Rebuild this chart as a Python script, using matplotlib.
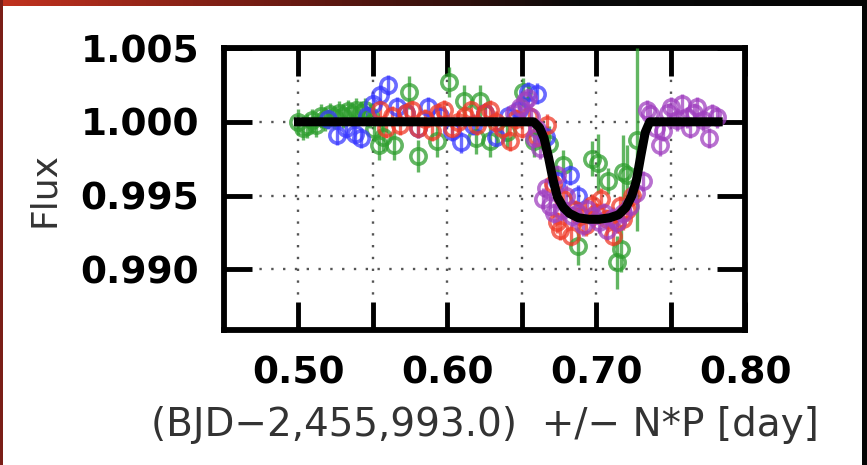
import matplotlib
matplotlib.use("Agg")
import matplotlib.pyplot as plt
import numpy as np
from matplotlib.colors import LinearSegmentedColormap
from matplotlib.ticker import FixedLocator, FuncFormatter

# ---- light-curve data (phase-folded time, relative flux, flux error) ----
t_green = [0.500, 0.503, 0.506, 0.509, 0.512, 0.515, 0.518, 0.521, 0.524, 0.527,
           0.530, 0.533, 0.536, 0.539, 0.542, 0.545, 0.548, 0.551, 0.554, 0.557,
           0.564, 0.574, 0.580, 0.593, 0.601, 0.611, 0.619, 0.622, 0.629, 0.640,
           0.651, 0.658, 0.668, 0.678, 0.688, 0.697, 0.701, 0.708, 0.714, 0.717,
           0.718, 0.721, 0.7275]
f_green = [1.0000, 0.9996, 0.9997, 1.0001, 0.9998, 1.0004, 1.0002, 1.0005, 1.0003, 1.0006,
           1.0004, 1.0007, 1.0005, 1.0008, 1.0006, 1.0008, 1.0004, 0.9995, 0.9984, 0.9990,
           0.9984, 1.0020, 0.9977, 0.9987, 1.0027, 1.0014, 0.9989, 1.0014, 0.9987, 0.9993,
           1.0020, 0.9987, 0.9985, 0.9971, 0.9916, 0.9975, 0.9972, 0.9960, 0.9905, 0.9914,
           0.9966, 0.9964, 0.9988]
e_green = [0.0009, 0.0008, 0.0008, 0.0008, 0.0008, 0.0008, 0.0008, 0.0008, 0.0008, 0.0008,
           0.0008, 0.0008, 0.0008, 0.0008, 0.0008, 0.0008, 0.0008, 0.0008, 0.0010, 0.0010,
           0.0010, 0.0011, 0.0011, 0.0011, 0.0010, 0.0011, 0.0011, 0.0011, 0.0011, 0.0011,
           0.0010, 0.0011, 0.0012, 0.0010, 0.0013, 0.0012, 0.0020, 0.0009, 0.0018, 0.0016,
           0.0025, 0.0020, 0.0062]

t_blue = [0.520, 0.526, 0.532, 0.538, 0.542, 0.546, 0.550, 0.555, 0.560, 0.566,
          0.572, 0.580, 0.587, 0.595, 0.603, 0.609, 0.617, 0.625, 0.633, 0.641,
          0.648, 0.654, 0.660, 0.666, 0.674, 0.6826, 0.688]
f_blue = [1.0002, 0.9991, 0.9996, 0.9992, 0.9989, 1.0004, 1.0012, 1.0018, 1.0025, 1.0010,
          1.0006, 0.9996, 1.0010, 1.0004, 0.9994, 0.9986, 0.9998, 1.0006, 0.9990, 1.0004,
          1.0008, 1.0020, 1.0019, 0.9990, 0.9960, 0.9964, 0.9950]
e_blue = [0.0007] * len(t_blue)

t_red = [0.555, 0.559, 0.563, 0.568, 0.572, 0.576, 0.580, 0.585, 0.590, 0.594,
         0.598, 0.603, 0.607, 0.612, 0.616, 0.620, 0.625, 0.629, 0.633, 0.637,
         0.642, 0.646, 0.650, 0.655, 0.660, 0.667, 0.671, 0.674, 0.676, 0.678,
         0.683, 0.686, 0.689, 0.693, 0.697, 0.700, 0.703, 0.707, 0.711, 0.714,
         0.716, 0.718, 0.721, 0.724]
f_red = [1.0008, 0.9996, 1.0004, 0.9998, 1.0006, 1.0008, 0.9996, 1.0002, 0.9994, 1.0006,
         1.0008, 0.9996, 1.0000, 1.0004, 1.0008, 0.9998, 1.0006, 1.0008, 1.0000, 0.9996,
         0.9987, 1.0002, 0.9996, 1.0004, 0.9990, 0.9998, 0.9958, 0.9932, 0.9927, 0.9948,
         0.9923, 0.9940, 0.9936, 0.9930, 0.9944, 0.9938, 0.9948, 0.9934, 0.9923, 0.9932,
         0.9943, 0.9934, 0.9940, 0.9950]
e_red = [0.0007] * len(t_red)

t_purple = [0.645, 0.649, 0.652, 0.654, 0.656, 0.658, 0.660, 0.662, 0.664, 0.666,
            0.669, 0.672, 0.674, 0.677, 0.680, 0.684, 0.688, 0.691, 0.694, 0.698,
            0.702, 0.705, 0.707, 0.711, 0.714, 0.718, 0.723, 0.727, 0.7315, 0.734,
            0.736, 0.740, 0.743, 0.745, 0.748, 0.750, 0.754, 0.758, 0.761, 0.763,
            0.766, 0.768, 0.772, 0.776, 0.778, 0.781]
f_purple = [1.0006, 1.0010, 1.0014, 1.0016, 1.0003, 0.9989, 0.9995, 0.9982, 0.9948, 0.9955,
            0.9943, 0.9938, 0.9964, 0.9940, 0.9950, 0.9936, 0.9938, 0.9930, 0.9941, 0.9936,
            0.9932, 0.9938, 0.9927, 0.9935, 0.9932, 0.9938, 0.9943, 0.9952, 0.9960, 1.0008,
            1.0005, 0.9996, 0.9984, 0.9994, 1.0006, 1.0010, 1.0001, 1.0012, 1.0003, 0.9996,
            1.0006, 1.0010, 1.0001, 0.9989, 1.0005, 1.0003]
e_purple = [0.0007] * len(t_purple)

# best-fit transit model
t_model = [0.497, 0.658, 0.662, 0.665, 0.668, 0.671, 0.674, 0.678, 0.682, 0.688,
           0.695, 0.702, 0.709, 0.715, 0.720, 0.724, 0.727, 0.730, 0.733, 0.736, 0.785]
f_model = [1.0000, 1.0000, 0.9996, 0.9989, 0.9976, 0.9961, 0.9949, 0.9942, 0.9938, 0.9935,
           0.9934, 0.9934, 0.9935, 0.9937, 0.9942, 0.9950, 0.9960, 0.9977, 0.9993, 1.0000, 1.0000]

x_ticks = [0.50, 0.55, 0.60, 0.65, 0.70, 0.75, 0.80]
x_labels = ["0.50", "", "0.60", "", "0.70", "", "0.80"]
y_ticks = [0.990, 0.995, 1.000, 1.005]

W, H = 867, 465
fig = plt.figure(figsize=(W / 100, H / 100), dpi=100)
fig.patch.set_facecolor("white")

# slide frame: red-to-black strip on top, thin borders left and right
strip = fig.add_axes([0, 1 - 6 / H, 1, 6 / H])
cmap = LinearSegmentedColormap.from_list("frame", ["#c2321f", "#6a1a12", "#0a0a0a", "#050505"])
strip.imshow(np.linspace(0, 1, 256)[None, :], aspect="auto", cmap=cmap)
strip.axis("off")
left_edge = fig.add_axes([0, 0, 2.5 / W, 1])
left_edge.set_facecolor("#7a1e17")
left_edge.set_xticks([]); left_edge.set_yticks([])
for s in left_edge.spines.values():
    s.set_visible(False)
right_edge = fig.add_axes([1 - 5.5 / W, 0, 5.5 / W, 1])
right_edge.set_facecolor("#050505")
right_edge.set_xticks([]); right_edge.set_yticks([])
for s in right_edge.spines.values():
    s.set_visible(False)

ax = fig.add_axes([224 / W, 1 - 330 / H, (745 - 224) / W, (330 - 48) / H])

series = [
    (t_green, f_green, e_green, "#2e9e2e"),
    (t_blue, f_blue, e_blue, "#3a3aff"),
    (t_red, f_red, e_red, "#f03a28"),
    (t_purple, f_purple, e_purple, "#a040c0"),
]
for t, f, e, c in series:
    ax.errorbar(t, f, yerr=e, fmt="o", ms=11, mfc="none", mec=c, mew=2.6,
                ecolor=c, elinewidth=2.4, capsize=0, alpha=0.75, zorder=3)

ax.plot(t_model, f_model, color="black", lw=6.5, solid_capstyle="butt",
        solid_joinstyle="round", zorder=5)

ax.set_xlim(0.45, 0.80)
ax.set_ylim(0.9859, 1.005)
ax.xaxis.set_major_locator(FixedLocator(x_ticks))
ax.set_xticklabels(x_labels)
ax.yaxis.set_major_locator(FixedLocator(y_ticks))
ax.yaxis.set_major_formatter(FuncFormatter(lambda v, p: f"{v:.3f}"))

ax.grid(True, color="#555555", linestyle=(0, (1, 4)), linewidth=1.7, zorder=1)
ax.set_axisbelow(True)
for s in ax.spines.values():
    s.set_linewidth(4.2)
ax.tick_params(direction="in", length=20, width=3.5, top=True, right=True,
               labelsize=27, pad=18)
for lbl in ax.get_xticklabels() + ax.get_yticklabels():
    lbl.set_fontweight("bold")

ax.set_ylabel("Flux", fontsize=26, color="#333333", labelpad=14)
ax.set_xlabel("(BJD\u22122,455,993.0)  +/\u2212 N*P [day]", fontsize=28,
              color="#333333", labelpad=11)

fig.savefig("out.png", dpi=100, facecolor=fig.get_facecolor())
